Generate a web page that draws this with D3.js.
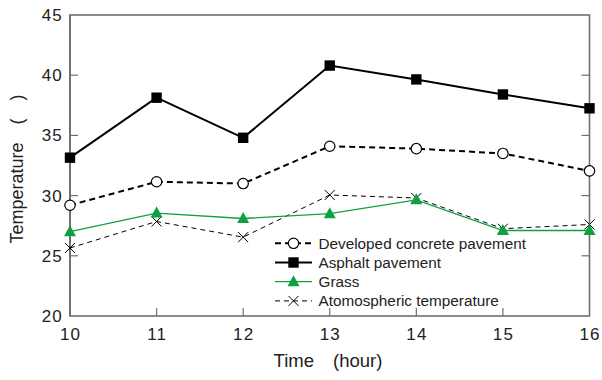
<!DOCTYPE html>
<html><head><meta charset="utf-8">
<script src="https://cdn.jsdelivr.net/npm/d3@7"></script>
<style>body{margin:0;background:#fff}svg{display:block}text{font-family:"Liberation Sans",Arial,sans-serif}</style>
</head><body><svg id="c" width="602" height="380"></svg>
<script>
const hours = [10, 11, 12, 13, 14, 15, 16];
const concrete = [29.2, 31.15, 31.0, 34.1, 33.9, 33.5, 32.05];
const asphalt = [33.15, 38.13, 34.8, 40.8, 39.65, 38.4, 37.25];
const grass = [27.0, 28.55, 28.1, 28.5, 29.65, 27.1, 27.1];
const atmos = [25.65, 27.85, 26.55, 30.05, 29.8, 27.25, 27.6];
const yTicks = [20, 25, 30, 35, 40, 45];
const seriesNames = ["Developed concrete pavement", "Asphalt pavement", "Grass", "Atomospheric temperature"];

const svg = d3.select("#c");
const L = 70, R = 589.5, T = 15, B = 316;
const x = d3.scaleLinear().domain([10, 16]).range([L, R]);
const y = d3.scaleLinear().domain([20, 45]).range([B, T]);
const green = "#10a040";

const series = [
  {name: seriesNames[0], vals: concrete, color: "#000", width: 2, dash: "6,4", marker: "circle"},
  {name: seriesNames[1], vals: asphalt, color: "#000", width: 2, dash: null, marker: "square"},
  {name: seriesNames[2], vals: grass, color: green, width: 1.3, dash: null, marker: "triangle"},
  {name: seriesNames[3], vals: atmos, color: "#000", width: 1, dash: "5,4", marker: "x"}
];

// frame
const ax = "#707070";
svg.append("rect").attr("x", L).attr("y", T).attr("width", R - L).attr("height", B - T)
  .attr("fill", "none").attr("stroke", ax).attr("stroke-width", 1.6);
svg.append("line").attr("x1", L).attr("x2", L).attr("y1", T).attr("y2", B).attr("stroke", ax).attr("stroke-width", 2);

// y ticks
yTicks.forEach(t => {
  if (t > 20 && t < 45) {
    svg.append("line").attr("x1", L).attr("x2", L + 8).attr("y1", y(t)).attr("y2", y(t)).attr("stroke", ax).attr("stroke-width", 1.2);
    svg.append("line").attr("x1", R).attr("x2", R - 8).attr("y1", y(t)).attr("y2", y(t)).attr("stroke", ax).attr("stroke-width", 1.2);
  }
  svg.append("text").attr("x", 63).attr("y", y(t) + 6).attr("text-anchor", "end")
    .attr("font-size", 17).attr("letter-spacing", 1.2).attr("fill", "#222").text(t);
});
// x ticks
hours.forEach(h => {
  if (h > 10 && h < 16) {
    svg.append("line").attr("x1", x(h)).attr("x2", x(h)).attr("y1", B).attr("y2", B - 8).attr("stroke", ax).attr("stroke-width", 1.2);
  }
  svg.append("text").attr("x", x(h) + 0.6).attr("y", 340).attr("text-anchor", "middle")
    .attr("font-size", 17).attr("letter-spacing", 1.2).attr("fill", "#222").text(h);
});

// axis titles
svg.append("text").attr("x", 328).attr("y", 367).attr("text-anchor", "middle")
  .attr("font-size", 18.5).attr("fill", "#222").attr("xml:space", "preserve").text("Time\u3000(hour)");
svg.append("text").attr("transform", "translate(23,169) rotate(-90)").attr("text-anchor", "middle")
  .attr("font-size", 18).attr("fill", "#222").attr("xml:space", "preserve").text("Temperature\u3000(\u3000)");

function drawMarker(g, m, cx, cy, color) {
  if (m === "circle") g.append("circle").attr("cx", cx).attr("cy", cy).attr("r", 5.2).attr("fill", "#fff").attr("stroke", "#000").attr("stroke-width", 1.2);
  else if (m === "square") g.append("rect").attr("x", cx - 5.2).attr("y", cy - 5.2).attr("width", 10.4).attr("height", 10.4).attr("fill", "#000");
  else if (m === "triangle") g.append("path").attr("d", `M${cx},${cy - 6.5}L${cx + 6},${cy + 4.5}L${cx - 6},${cy + 4.5}Z`).attr("fill", color);
  else if (m === "x") g.append("path").attr("d", `M${cx - 5},${cy - 5}L${cx + 5},${cy + 5}M${cx - 5},${cy + 5}L${cx + 5},${cy - 5}`).attr("stroke", "#000").attr("stroke-width", 1);
}

const line = d3.line().x((d, i) => x(hours[i])).y(d => y(d));
const drawOrder = [3, 2, 0, 1];
drawOrder.forEach(k => {
  const s = series[k];
  svg.append("path").attr("d", line(s.vals)).attr("fill", "none").attr("stroke", s.color)
    .attr("stroke-width", s.width).attr("stroke-dasharray", s.dash);
});
drawOrder.forEach(k => {
  const s = series[k];
  const g = svg.append("g");
  s.vals.forEach((v, i) => drawMarker(g, s.marker, x(hours[i]), y(v), s.color));
});

// legend
const lx = 275, ly0 = 243.3, dy = 19.2;
series.forEach((s, i) => {
  const yy = ly0 + i * dy;
  const g = svg.append("g");
  g.append("line").attr("x1", lx).attr("x2", lx + 37).attr("y1", yy).attr("y2", yy)
    .attr("stroke", s.color).attr("stroke-width", s.width).attr("stroke-dasharray", s.dash);
  drawMarker(g, s.marker, lx + 18.5, yy, s.color);
  g.append("text").attr("x", 318.5).attr("y", yy + 5.5).attr("font-size", 15.3).attr("fill", "#222").text(s.name);
});
</script></body></html>
